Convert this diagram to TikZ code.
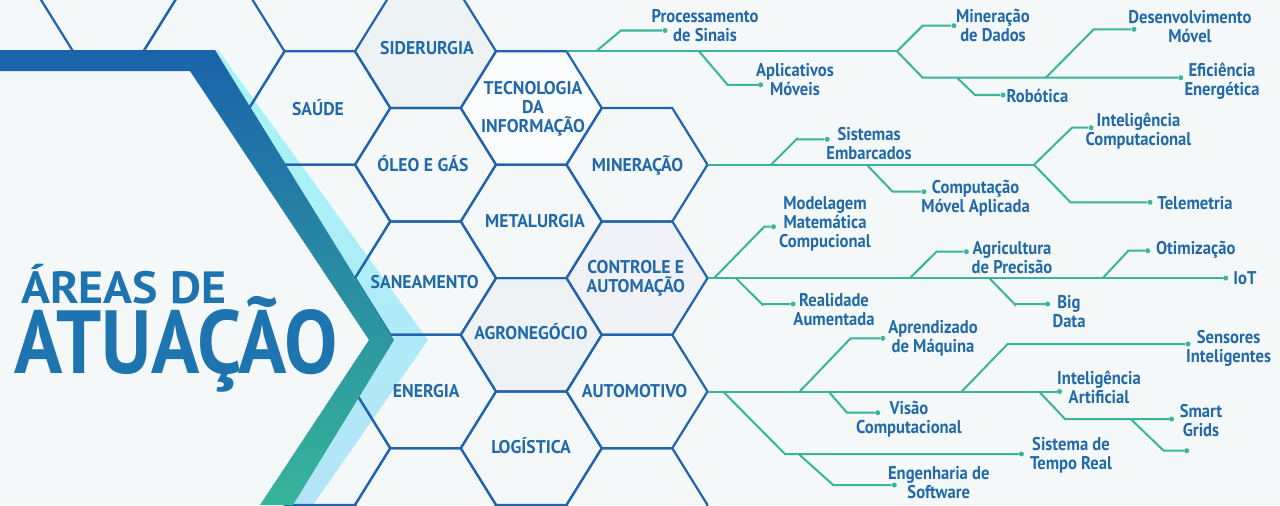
\documentclass[tikz,border=0pt]{standalone}
\usepackage{fontspec}
\setmainfont{PT Sans}
\newfontfamily\cellfont[FakeStretch=0.96]{PT Sans}
\newfontfamily\narrowfont[FakeStretch=0.9]{PT Sans}
\newfontfamily\headfont[FakeStretch=1.06]{PT Sans}
\newfontfamily\bigheadfont[FakeStretch=0.89]{PT Sans}
\usetikzlibrary{calc}
\definecolor{bgcol}{HTML}{F4F8F9}
\definecolor{hexblue}{HTML}{1F64AC}
\definecolor{lblblue}{HTML}{226AA7}
\definecolor{titleblue}{HTML}{1E74AF}
\definecolor{branchgreen}{HTML}{3AB49B}
\definecolor{wedgecyan}{HTML}{A6F5F8}
\definecolor{wedgelow}{HTML}{B4E4F8}
\definecolor{bandtop}{HTML}{1A63AB}
\definecolor{bandmid}{HTML}{2589A6}
\definecolor{bandlow}{HTML}{37B59A}
\definecolor{siderfill}{HTML}{EDF2F5}
\definecolor{tecfill}{HTML}{FAFCFD}
\definecolor{ctrlfill}{HTML}{F0F2F8}
\definecolor{agrofill}{HTML}{EEF2F4}
\def\hexcell[#1](#2,#3){\draw[#1] (#2-70.5,#3) -- (#2-35.25,#3-56.7) -- (#2+35.25,#3-56.7) -- (#2+70.5,#3) -- (#2+35.25,#3+56.7) -- (#2-35.25,#3+56.7) -- cycle;}
\tikzset{
	hexline/.style={draw=hexblue, line width=1.25pt, line join=round},
	hexlbl/.style={font=\cellfont\bfseries\fontsize{10.5}{10.8}\selectfont, text=lblblue, align=center, inner sep=0pt},
	capline/.style={text height=7.4pt, text depth=0pt},
	lbl/.style={font=\narrowfont\bfseries\fontsize{10.5}{10.8}\selectfont, text=lblblue, align=center, inner sep=0pt},
	branchline/.style={draw=branchgreen, line width=1.15pt},
	leafdot/.style={circle, fill=branchgreen, inner sep=0pt, minimum size=0.1cm},
	titletxt/.style={text=titleblue, anchor=base west, inner sep=0pt}
}

\begin{document}
\begin{tikzpicture}[x=0.02cm, y=-0.02cm]
			%%%%% START %%%%%
			
			\fill[bgcol] (0,0) rectangle (1280,505);
			\useasboundingbox (0,0) rectangle (1280,505);
			
			% tinted cells
			\hexcell[fill=siderfill, draw=none](425.5,51.3)
			\hexcell[fill=tecfill, draw=none](531.25,108)
			\hexcell[fill=ctrlfill, draw=none](637,278.1)
			\hexcell[fill=agrofill, draw=none](531.25,334.8)
			
			% light wedge beside the band
			\shade[top color=wedgecyan, bottom color=wedgelow] (215,50) -- (218,50) -- (428,340) -- (313,505) -- (293,505) -- (394,340) -- cycle;
			
			% honeycomb
			\hexcell[hexline](108.25,-5.4)
			\hexcell[hexline](214,51.3)
			\hexcell[hexline](319.75,108)
			\hexcell[hexline](319.75,221.4)
			\hexcell[hexline](319.75,334.8)
			\hexcell[hexline](319.75,448.2)
			
			\hexcell[hexline](425.5,51.3)
			\hexcell[hexline](425.5,164.7)
			\hexcell[hexline](425.5,278.1)
			\hexcell[hexline](425.5,391.5)
			\hexcell[hexline](425.5,504.9)
			
			\hexcell[hexline](531.25,108)
			\hexcell[hexline](531.25,221.4)
			\hexcell[hexline](531.25,334.8)
			\hexcell[hexline](531.25,448.2)
			
			\hexcell[hexline](637,164.7)
			\hexcell[hexline](637,278.1)
			\hexcell[hexline](637,391.5)
			\hexcell[hexline](637,504.9)
			
			\coordinate (ti-ne) at (566.75,51.3);
			\coordinate (mi-e) at (707.5,164.7);
			\coordinate (co-e) at (707.5,278.1);
			\coordinate (au-e) at (707.5,391.5);
			
			% clear area inside the chevron
			\fill[bgcol] (0,71) -- (190,71) -- (369,340) -- (260,505) -- (0,505) -- cycle;
			
			% chevron band
			\shade[top color=bandtop, middle color=bandmid, bottom color=bandlow] (0,50) -- (215,50) -- (394,340) -- (293,505) -- (260,505) -- (369,340) -- (190,71) -- (0,71) -- cycle;
			
			% title
			\node[titletxt, text depth=0pt, font=\headfont\bfseries\fontsize{25.7}{26}\selectfont] (areas) at (20.7,303.3) {ÁREAS DE};
			\node[titletxt, text height=36pt, font=\bigheadfont\bfseries\fontsize{51}{52}\selectfont] (atuacao) at (14,373.3) {ATUAÇÃO};
			
			% cell labels
			\node[hexlbl, capline] (sider) at (427,48.3) {SIDERURGIA};
			\node[hexlbl, capline] (saude) at (318,108.5) {SAÚDE};
			\node[hexlbl, capline] (oleo) at (423,165) {ÓLEO E GÁS};
			\node[hexlbl] (tecinfo) at (533,109) {TECNOLOGIA\\DA\\INFORMAÇÃO};
			\node[hexlbl, capline] (miner) at (637.5,165) {MINERAÇÃO};
			\node[hexlbl, capline] (metal) at (535,221) {METALURGIA};
			\node[hexlbl, capline] (sanea) at (424.7,281.7) {SANEAMENTO};
			\node[hexlbl] (ctrl) at (635.8,278.2) {CONTROLE E\\AUTOMAÇÃO};
			\node[hexlbl, capline] (agro) at (531,332.7) {AGRONEGÓCIO};
			\node[hexlbl, capline] (energ) at (426.3,391) {ENERGIA};
			\node[hexlbl, capline] (auto) at (634.5,390.7) {AUTOMOTIVO};
			\node[hexlbl, capline] (logi) at (531,446.7) {LOGÍSTICA};
			
			% TI branch
			\coordinate (t1a) at (596,51.3);
			\coordinate (t1b) at (699,51.3);
			\coordinate (t1c) at (897,51.3);
			\coordinate (t1d) at (957,77.7);
			\coordinate (t1e) at (1045.8,77.7);
			\node[leafdot] (sinais) at (665,30.5) {};
			\node[leafdot] (apps) at (760.6,84.8) {};
			\node[leafdot] (dados) at (954,25.7) {};
			\node[leafdot] (efic) at (1180.7,77.7) {};
			\node[leafdot] (robo) at (1003,95) {};
			\node[leafdot] (desenv) at (1134,29.3) {};
			\draw[branchline] (ti-ne) -- (t1c);
			\draw[branchline] (t1a) -- +(25,-20.8) |- (sinais);
			\draw[branchline] (t1b) -- +(28.6,33.5) |- (apps);
			\draw[branchline] (t1c) -- +(25.7,-25.6) |- (dados);
			\draw[branchline] (t1c) -- +(25.7,26.4) |- (efic);
			\draw[branchline] (t1d) -- +(18,17.3) |- (robo);
			\draw[branchline] (t1e) -- +(48,-48.4) |- (desenv);
			\node[lbl] (sinais-t) at (705,25.3) {Processamento\\de Sinais};
			\node[lbl] (apps-t) at (795,80) {Aplicativos\\Móveis};
			\node[lbl] (dados-t) at (993,25.3) {Mineração\\de Dados};
			\node[lbl] (efic-t) at (1222,81.3) {Eficiência\\Energética};
			\node[lbl] (robo-t) at (1037.5,96) {Robótica};
			\node[lbl] (desenv-t) at (1190,26.3) {Desenvolvimento\\Móvel};
			
			% mining branch
			\coordinate (t2a) at (771,164.7);
			\coordinate (t2b) at (866.7,164.7);
			\coordinate (t2c) at (1034,164.7);
			\node[leafdot] (sist) at (827.2,139.3) {};
			\node[leafdot] (compm) at (924,191.7) {};
			\node[leafdot] (intc) at (1091,127.7) {};
			\node[leafdot] (tele) at (1150,202.3) {};
			\draw[branchline] (mi-e) -- (t2c);
			\draw[branchline] (t2a) -- +(25.5,-25.5) |- (sist);
			\draw[branchline] (t2b) -- +(26,27) |- (compm);
			\draw[branchline] (t2c) -- +(38,-37) |- (intc);
			\draw[branchline] (t2c) -- +(36.5,37.6) |- (tele);
			\node[lbl] (sist-t) at (869,143.4) {Sistemas\\Embarcados};
			\node[lbl] (compm-t) at (975.6,197.8) {Computação\\Móvel Aplicada};
			\node[lbl] (intc-t) at (1138.5,131.2) {Inteligência\\Computacional};
			\node[lbl] (tele-t) at (1195,202.7) {Telemetria};
			
			% control branch
			\coordinate (t3a) at (714,278.1);
			\coordinate (t3b) at (735.8,278.1);
			\coordinate (t3c) at (909.9,278.1);
			\coordinate (t3d) at (989.3,278.1);
			\coordinate (t3e) at (1102.7,278.1);
			\node[leafdot] (iot) at (1225.7,278.1) {};
			\node[leafdot] (model) at (773.5,226.7) {};
			\node[leafdot] (real) at (793.2,304) {};
			\node[leafdot] (agri) at (966.3,251.7) {};
			\node[leafdot] (bigd) at (1047.6,304) {};
			\node[leafdot] (otim) at (1147.7,250.7) {};
			\draw[branchline] (co-e) -- (iot);
			\draw[branchline] (t3a) -- +(50.3,-51.4) |- (model);
			\draw[branchline] (t3b) -- +(26.2,26) |- (real);
			\draw[branchline] (t3c) -- +(26.6,-26.4) |- (agri);
			\draw[branchline] (t3d) -- +(25.2,26) |- (bigd);
			\draw[branchline] (t3e) -- +(25.7,-27.4) |- (otim);
			\node[lbl] (iot-t) at (1245,278.3) {IoT};
			\node[lbl] (model-t) at (825,223.5) {Modelagem\\Matemática\\Compucional};
			\node[lbl] (real-t) at (834,309.5) {Realidade\\Aumentada};
			\node[lbl] (agri-t) at (1012,257.5) {Agricultura\\de Precisão};
			\node[lbl] (bigd-t) at (1069,311.2) {Big\\Data};
			\node[lbl] (otim-t) at (1195.7,250) {Otimização};
			
			% automotive branch
			\coordinate (t4a) at (799.7,391.5);
			\coordinate (t4b) at (828.6,391.5);
			\coordinate (t4c) at (961.7,391.5);
			\coordinate (t4d) at (1039,391.5);
			\coordinate (t4e) at (1130.7,419);
			\coordinate (t4f) at (723,391.5);
			\coordinate (t4g) at (798.7,454);
			\node[leafdot] (ia) at (1059.5,391.5) {};
			\node[leafdot] (apre) at (882.8,338.3) {};
			\node[leafdot] (visao) at (877.7,412.7) {};
			\node[leafdot] (sens) at (1188,344) {};
			\node[leafdot] (smart) at (1171.6,419) {};
			\node[leafdot] (grids) at (1186.7,450.7) {};
			\node[leafdot] (tempo) at (1021.4,454) {};
			\node[leafdot] (soft) at (894.3,485) {};
			\draw[branchline] (au-e) -- (ia);
			\draw[branchline] (t4a) -- +(50.9,-53.2) |- (apre);
			\draw[branchline] (t4b) -- +(18.4,21.2) |- (visao);
			\draw[branchline] (t4c) -- +(45.9,-47.5) |- (sens);
			\draw[branchline] (t4d) -- +(26,27.5) |- (smart);
			\draw[branchline] (t4e) -- +(33,31.7) |- (grids);
			\draw[branchline] (t4f) -- +(62,62.5) |- (tempo);
			\draw[branchline] (t4g) -- +(34.5,31) |- (soft);
			\node[lbl] (ia-t) at (1099,387.5) {Inteligência\\Artificial};
			\node[lbl] (apre-t) at (933,337.8) {Aprendizado\\de Máquina};
			\node[lbl] (visao-t) at (909,418.8) {Visão\\Computacional};
			\node[lbl] (sens-t) at (1228.6,348.2) {Sensores\\Inteligentes};
			\node[lbl] (smart-t) at (1201,420.8) {Smart\\Grids};
			\node[lbl] (tempo-t) at (1071,455.3) {Sistema de\\Tempo Real};
			\node[lbl] (soft-t) at (938.8,482.5) {Engenharia de\\Software};
			
			%%%%% END %%%%%
\end{tikzpicture}
\end{document}
